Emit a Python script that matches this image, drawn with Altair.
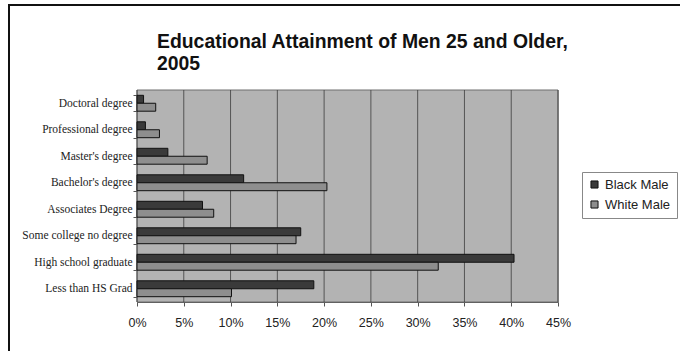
import altair as alt
import pandas as pd

# Educational attainment of men aged 25+, 2005 (percent of each group)
categories = [
    "Doctoral degree",
    "Professional degree",
    "Master's degree",
    "Bachelor's degree",
    "Associates Degree",
    "Some college no degree",
    "High school graduate",
    "Less than HS Grad",
]
black_male = [0.7, 0.9, 3.3, 11.4, 7.0, 17.5, 40.3, 18.9]
white_male = [2.0, 2.4, 7.5, 20.3, 8.2, 17.0, 32.2, 10.1]
series = ["Black Male", "White Male"]
x_ticks = [0, 5, 10, 15, 20, 25, 30, 35, 40, 45]
title_lines = ["Educational Attainment of Men 25 and Older,", "2005"]

rows = []
for cat, b, w in zip(categories, black_male, white_male):
    rows.append({"degree": cat, "group": series[0], "pct": b})
    rows.append({"degree": cat, "group": series[1], "pct": w})
df = pd.DataFrame(rows)

W, H = 421, 212
LEFT, TOP = 137, 90
one = pd.DataFrame({"k": [0]})

x_scale = alt.Scale(domain=[0, 45], nice=False)

# Plot-area fill
plot_bg = alt.Chart(one).mark_rect(fill="#b3b3b3", stroke="#6e6e6e", strokeWidth=1).encode(
    x=alt.value(0), x2=alt.value(W), y=alt.value(0), y2=alt.value(H)
)

# Vertical gridlines at every 5%
grid = alt.Chart(pd.DataFrame({"t": x_ticks})).mark_rule(
    color="#3c3c3c", strokeWidth=0.8
).encode(
    x=alt.X("t:Q", scale=x_scale),
    y=alt.value(0),
    y2=alt.value(H),
)

bars = alt.Chart(df).mark_bar(stroke="#111111", strokeWidth=1).encode(
    x=alt.X(
        "pct:Q",
        scale=x_scale,
        axis=alt.Axis(
            values=x_ticks,
            labelExpr="datum.value + '%'",
            title=None,
            grid=False,
            domain=True,
            domainColor="#555555",
            tickColor="#555555",
            tickSize=4,
            labelPadding=10,
            labelFlush=False,
            labelFont="Liberation Sans",
            labelFontSize=12.5,
            labelColor="#222222",
        ),
    ),
    y=alt.Y(
        "degree:N",
        sort=categories,
        scale=alt.Scale(paddingInner=0.4, paddingOuter=0.2),
        axis=alt.Axis(
            title=None,
            grid=False,
            domain=True,
            domainColor="#555555",
            tickColor="#555555",
            tickSize=4,
            tickBand="extent",
            labelPadding=1,
            labelFont="Liberation Serif",
            labelFontSize=11.5,
            labelColor="#222222",
        ),
    ),
    yOffset=alt.YOffset("group:N", sort=series),
    color=alt.Color(
        "group:N",
        sort=series,
        scale=alt.Scale(domain=series, range=["#3a3a3a", "#8e8e8e"]),
        legend=alt.Legend(
            title=None,
            orient="none",
            legendX=445,
            legendY=82,
            symbolType="square",
            symbolSize=50,
            symbolStrokeColor="#111111",
            symbolStrokeWidth=1,
            labelFont="Liberation Sans",
            labelFontSize=13,
            labelColor="#222222",
            labelOffset=4,
            rowPadding=6,
            padding=6,
            strokeColor="#888888",
            fillColor="white",
        ),
    ),
)

# Two-line chart heading
title_style = dict(
    align="left", baseline="alphabetic", font="Liberation Sans",
    fontSize=19.4, fontWeight="bold", color="#111111",
)
title1 = alt.Chart(one).mark_text(**title_style).encode(
    x=alt.value(157 - LEFT), y=alt.value(48 - TOP), text=alt.value(title_lines[0])
)
title2 = alt.Chart(one).mark_text(**title_style).encode(
    x=alt.value(157 - LEFT), y=alt.value(70 - TOP), text=alt.value(title_lines[1])
)

# Outer frame of the chart sheet
frame = alt.Chart(one).mark_rect(
    fill="transparent", stroke="#111111", strokeWidth=2
).encode(
    x=alt.value(9 - LEFT),
    x2=alt.value(690 - LEFT),
    y=alt.value(5 - TOP),
    y2=alt.value(360 - TOP),
)

chart = (
    alt.layer(frame, plot_bg, grid, bars, title1, title2)
    .properties(
        width=W,
        height=H,
        autosize=alt.AutoSizeParams(type="none"),
        padding={"left": LEFT, "top": TOP, "right": 680 - LEFT - W, "bottom": 351 - TOP - H},
    )
    .configure_view(stroke=None)
    .configure_legend(strokeDash=[2, 2])
    .configure(background="white")
)

chart.save("out.html", embed_options={"renderer": "svg", "actions": False})
